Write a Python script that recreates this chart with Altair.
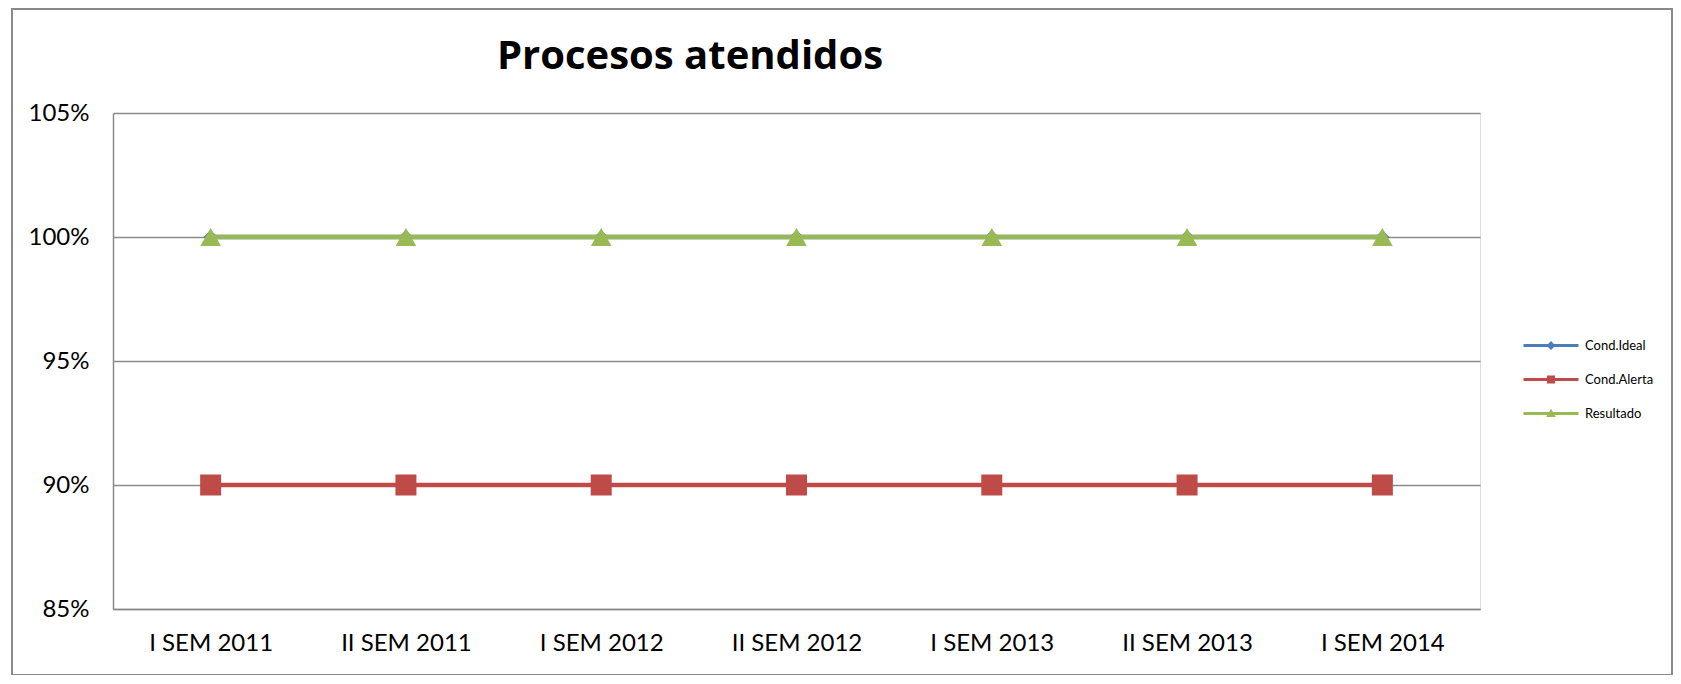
import altair as alt
import pandas as pd

categories = ["I SEM 2011", "II SEM 2011", "I SEM 2012", "II SEM 2012",
              "I SEM 2013", "II SEM 2013", "I SEM 2014"]
cond_ideal = [1.00, 1.00, 1.00, 1.00, 1.00, 1.00, 1.00]
cond_alerta = [0.90, 0.90, 0.90, 0.90, 0.90, 0.90, 0.90]
resultado = [1.00, 1.00, 1.00, 1.00, 1.00, 1.00, 1.00]
series_names = ["Cond.Ideal", "Cond.Alerta", "Resultado"]
y_ticks = [0.85, 0.90, 0.95, 1.00, 1.05]
title_text = "Procesos atendidos"

series_colors = ["#4A7EBB", "#BE4B48", "#98B954"]
marker_shapes = ["diamond", "square", "triangle-up"]
marker_sizes = [200, 441, 430]

# legend symbols: a line segment with a small marker on it (all drawn clockwise)
legend_paths = [
    "M-12.75,-0.4H1V0.4H-12.75Z M-7,0L-5.875,-1.125L-4.75,0L-5.875,1.125Z",
    "M-12.75,-0.4H1V0.4H-12.75Z M-6.875,-1H-4.875V1H-6.875Z",
    "M-12.75,-0.4H1V0.4H-12.75Z M-7.1,0.9L-5.875,-1.2L-4.65,0.9Z",
]

rows = []
for name, vals in zip(series_names, [cond_ideal, cond_alerta, resultado]):
    for c, v in zip(categories, vals):
        rows.append({"category": c, "value": v, "series": name})
df = pd.DataFrame(rows)

FONT = "Lato"
GRAY = "#8a8a8a"

x_enc = alt.X("category:N", sort=categories,
              scale=alt.Scale(domain=categories),
              axis=alt.Axis(title=None, grid=False, ticks=False, labelAngle=0,
                            labelFont=FONT, labelFontSize=24, labelColor="black",
                            labelPadding=22, domainColor=GRAY, domainWidth=1.5))
y_enc = alt.Y("value:Q",
              scale=alt.Scale(domain=[0.85, 1.05], nice=False, zero=False),
              axis=alt.Axis(title=None, values=y_ticks, format=".0%", ticks=False,
                            grid=True, gridColor=GRAY, gridWidth=1.3,
                            labelFont=FONT, labelFontSize=24, labelColor="black",
                            labelPadding=24, domainColor=GRAY, domainWidth=1.5))

layers = []
for name, col, shp, sz in zip(series_names, series_colors, marker_shapes, marker_sizes):
    sub = alt.Chart(df).transform_filter(alt.datum.series == name)
    layers.append(sub.mark_line(strokeWidth=4.5).encode(x=x_enc, y=y_enc, color=alt.value(col)))
    layers.append(sub.mark_point(filled=True, opacity=1, shape=shp, size=sz)
                  .encode(x=x_enc, y=y_enc, color=alt.value(col)))

legend_cfg = alt.Legend(title=None, orient="none", legendX=1455, legendY=226,
                        symbolSize=64, symbolStrokeWidth=0, labelFont=FONT,
                        labelFontSize=13, labelColor="black", labelOffset=4,
                        rowPadding=20, padding=0)
legend_layer = alt.Chart(df).mark_point(filled=True, opacity=1, clip=True).encode(
    x=x_enc,
    y=alt.value(-3000),
    color=alt.Color("series:N", scale=alt.Scale(domain=series_names, range=series_colors),
                    legend=legend_cfg),
    shape=alt.Shape("series:N", scale=alt.Scale(domain=series_names, range=legend_paths),
                    legend=legend_cfg),
)

one = pd.DataFrame({"k": [0]})
border = alt.Chart(one).mark_rect(fillOpacity=0, stroke=GRAY, strokeWidth=2).encode(
    x=alt.value(-101), x2=alt.value(1559), y=alt.value(-104), y2=alt.value(562))
title = alt.Chart(one).mark_text(text=title_text, font="Open Sans", fontSize=40,
                                 fontWeight="bold", color="black", align="center",
                                 baseline="alphabetic").encode(
    x=alt.value(577), y=alt.value(-44))

chart = alt.layer(border, title, *layers, legend_layer).properties(
    width=1367, height=496,
    padding={"left": 105, "top": 105, "right": 193, "bottom": 66},
    autosize=alt.AutoSizeParams(type="none"),
).configure_view(stroke="transparent").configure(background="white")

chart.save("out.html", embed_options={"renderer": "svg", "actions": False})
